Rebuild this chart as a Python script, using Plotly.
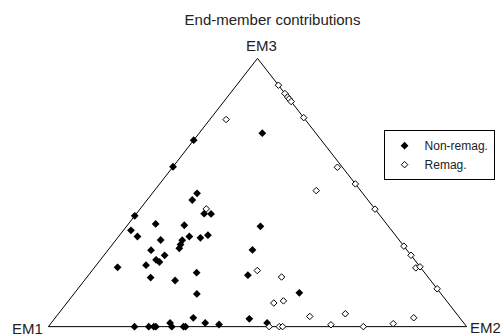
import plotly.graph_objects as go

# End-member contributions (percent)
nonremag_em1 = [12.8, 30.5, 40.4, 39.6, 42.0, 41.7, 40.1, 58.7, 55.2, 48.6, 62.3, 61.9, 57.0, 49.5, 47.1,
                44.8, 51.9, 53.1, 54.1, 61.2, 58.9, 30.6, 36.9, 65.2, 61.8, 61.4, 72.4, 54.5, 66.4, 42.7,
                61.1, 33.7, 58.4, 63.7, 50.5, 61.8, 58.8, 47.0, 70.2, 79.4, 76.0, 74.8, 74.3, 70.5, 67.7, 67.2]
nonremag_em2 = [15.1, 0.0, 0.0, 10.7, 10.8, 16.2, 17.9, 0.0, 6.5, 13.6, 1.8, 4.5, 10.7, 16.9, 19.8,
                21.1, 15.9, 16.3, 16.7, 10.3, 14.5, 32.0, 34.5, 11.9, 13.3, 14.5, 5.5, 25.4, 15.3, 38.1,
                21.7, 53.7, 29.4, 33.0, 46.6, 36.8, 40.4, 51.6, 28.4, 20.6, 24.0, 25.2, 25.7, 29.5, 32.3, 32.8]
nonremag_em3 = [72.1, 69.5, 59.6, 49.7, 47.2, 42.1, 42.0, 41.3, 38.3, 37.8, 35.9, 33.6, 32.3, 33.6, 33.1,
                34.1, 32.2, 30.6, 29.2, 28.5, 26.6, 37.4, 28.6, 22.9, 24.9, 24.1, 22.1, 20.1, 18.3, 19.2,
                17.2, 12.6, 12.2, 3.3, 2.9, 1.4, 0.8, 1.4, 1.4, 0.0, 0.0, 0.0, 0.0, 0.0, 0.0, 0.0]

remag_em1 = [0.0, 0.0, 0.0, 0.0, 0.0, 0.0, 18.9, 1.2, 0.0, 10.6, 0.0, 40.3, 0.0, 0.0, 1.2,
             0.0, 0.0, 39.6, 35.0, 41.7, 39.0, 35.6, 26.6, 11.0, 17.0, 32.1, 24.7, 47.2, 44.8, 44.0]
remag_em2 = [10.0, 13.1, 14.4, 15.1, 16.1, 22.1, 3.9, 39.4, 46.8, 38.7, 56.2, 15.8, 70.0, 73.4, 76.9,
             77.7, 85.9, 39.5, 46.5, 49.5, 51.4, 60.6, 68.6, 85.7, 81.9, 67.2, 75.3, 52.8, 55.2, 56.0]
remag_em3 = [90.0, 86.9, 85.6, 84.9, 83.9, 77.9, 77.2, 59.4, 53.2, 50.7, 43.8, 43.9, 30.0, 26.6, 21.9,
             22.3, 14.1, 20.9, 18.5, 8.8, 9.6, 3.8, 4.8, 3.3, 1.1, 0.7, 0.0, 0.0, 0.0, 0.0]

corner_labels = ["EM1", "EM2", "EM3"]
title_text = "End-member contributions"
series_names = ["Non-remag.", "Remag."]


def to_xy(a, b, c):
    xs, ys = [], []
    for p, q, r in zip(a, b, c):
        s = p + q + r
        xs.append((q + r / 2.0) / s)
        ys.append(r / s)
    return xs, ys


FONT = "Liberation Sans, Arial, sans-serif"
TXT = "#222222"

fig = go.Figure()

# triangle frame from the three pure end-members
fx, fy = to_xy([100, 0, 0, 100], [0, 100, 0, 0], [0, 0, 100, 0])
fig.add_trace(go.Scatter(x=fx, y=fy, mode="lines", line=dict(color="black", width=1),
                         showlegend=False, hoverinfo="skip"))

nx, ny = to_xy(nonremag_em1, nonremag_em2, nonremag_em3)
fig.add_trace(go.Scatter(x=nx, y=ny, mode="markers", name=series_names[0], cliponaxis=False,
                         marker=dict(symbol="diamond", size=6, color="black", line=dict(width=0))))
rx, ry = to_xy(remag_em1, remag_em2, remag_em3)
fig.add_trace(go.Scatter(x=rx, y=ry, mode="markers", name=series_names[1], cliponaxis=False,
                         marker=dict(symbol="diamond", size=5, color="white",
                                     line=dict(color="black", width=1))))

ann = [
    dict(x=fx[0], y=fy[0], text=corner_labels[0], xanchor="right", yanchor="middle", xshift=-3, yshift=-2),
    dict(x=fx[1], y=fy[1], text=corner_labels[1], xanchor="left", yanchor="middle", xshift=1, yshift=-1),
    dict(x=fx[2], y=fy[2], text=corner_labels[2], xanchor="center", yanchor="bottom", xshift=4, yshift=2),
]
for a in ann:
    a.update(xref="x", yref="y", showarrow=False, font=dict(family=FONT, size=15, color=TXT))

fig.update_layout(
    width=504, height=336,
    margin=dict(l=39.62, r=28.62, t=52.62, b=3.62, pad=0),
    paper_bgcolor="white", plot_bgcolor="white",
    title=dict(text=title_text, x=272.5 / 504, xanchor="center", xref="container",
               y=1 - 20 / 336, yref="container", yanchor="middle",
               font=dict(family=FONT, size=15, color=TXT)),
    xaxis=dict(range=[-0.02, 1.02], visible=False, fixedrange=True),
    yaxis=dict(range=[-0.02, 1.02], visible=False, fixedrange=True),
    annotations=ann,
    showlegend=True,
    legend=dict(x=1.045, y=0.7234, xanchor="right", yanchor="top",
                bordercolor="black", borderwidth=1, bgcolor="white",
                font=dict(family=FONT, size=12, color=TXT),
                itemwidth=30, tracegroupgap=0),
)

fig.write_html("out.html")
